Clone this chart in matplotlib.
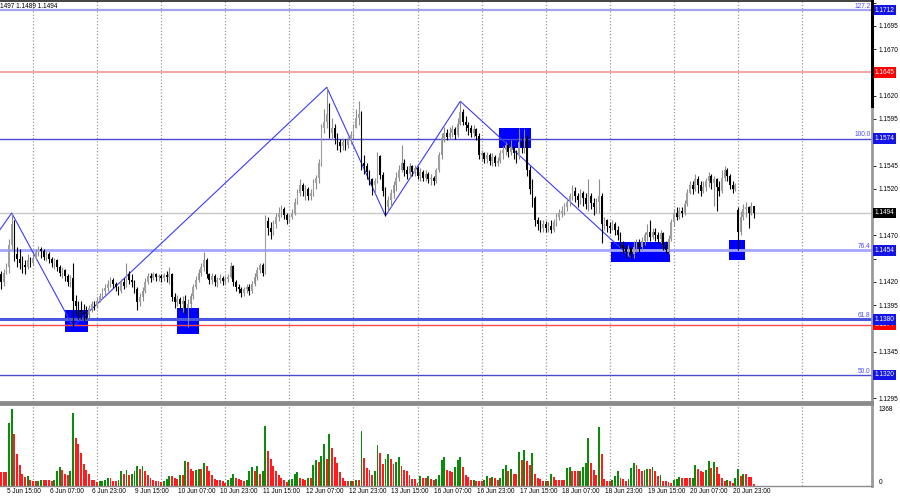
import numpy as np
import matplotlib
matplotlib.use("Agg")
import matplotlib.pyplot as plt
from matplotlib import font_manager
from matplotlib.patches import Rectangle
from matplotlib.lines import Line2D
from matplotlib.transforms import blended_transform_factory

# EURUSD H1, 5 Jun 12:00 .. 23 Jun 06:00, prices in units of 0.0001
first_open = 11428
gap_opens = {276: 11497}  # Monday 23 Jun opens with a gap

close = [
    11420, 11430, 11436, 11460, 11482, 11450, 11445, 11440, 11438, 11436, 11444, 11440,  # 5 Jun
    11446, 11452, 11455, 11453, 11447, 11450, 11445, 11440, 11443, 11436, 11430, 11433,
    11426, 11420, 11424, 11400, 11394, 11390, 11388, 11386, 11384, 11392, 11396, 11394,  # 6 Jun
    11400, 11405, 11410, 11413, 11418, 11422, 11418, 11414, 11410, 11420, 11416, 11428,
    11422, 11420, 11412, 11398, 11404, 11410, 11420, 11426, 11424, 11428, 11425, 11426,  # 9 Jun
    11424, 11427, 11425, 11428, 11404, 11398, 11402, 11396, 11400, 11392, 11396, 11405,
    11414, 11422, 11430, 11436, 11444, 11428, 11422, 11426, 11420, 11422, 11424, 11421,  # 10 Jun
    11423, 11425, 11437, 11420, 11415, 11412, 11408, 11412, 11415, 11410, 11418, 11425,
    11433, 11438, 11430, 11485, 11478, 11474, 11482, 11490, 11494, 11498, 11492, 11486,  # 11 Jun
    11490, 11494, 11506, 11516, 11524, 11518, 11520, 11512, 11516, 11526, 11532, 11548,
    11585, 11592, 11600, 11580, 11585, 11575, 11570, 11566, 11570, 11567, 11572, 11578,  # 12 Jun
    11585, 11596, 11600, 11548, 11545, 11538, 11530, 11524, 11528, 11555, 11535, 11518,
    11500, 11508, 11515, 11524, 11532, 11540, 11548, 11540, 11536, 11544, 11538, 11542,  # 13 Jun
    11534, 11538, 11532, 11536, 11530, 11532, 11528, 11540, 11556, 11575, 11580, 11576,
    11580, 11584, 11578, 11590, 11602, 11592, 11588, 11585, 11580, 11584, 11577, 11556,  # 16 Jun
    11558, 11552, 11556, 11550, 11554, 11548, 11550, 11558, 11562, 11567, 11560, 11565,
    11558, 11555, 11570, 11566, 11574, 11540, 11520, 11510, 11486, 11482, 11478, 11482,  # 17 Jun
    11478, 11480, 11476, 11484, 11490, 11494, 11496, 11500, 11506, 11512, 11518, 11512,
    11508, 11515, 11510, 11504, 11512, 11505, 11500, 11506, 11512, 11482, 11486, 11480,  # 18 Jun
    11478, 11482, 11476, 11470, 11460, 11456, 11452, 11456, 11450, 11458, 11462, 11458,
    11464, 11470, 11474, 11468, 11474, 11470, 11466, 11472, 11460, 11454, 11466, 11484,  # 19 Jun
    11494, 11490, 11496, 11494, 11504, 11516, 11524, 11520, 11530, 11524, 11518, 11522,
    11528, 11534, 11526, 11530, 11522, 11518, 11532, 11540, 11534, 11524, 11520, 11524,  # 20 Jun
    11474, 11490, 11498, 11500, 11494, 11502, 11494,  # 23 Jun
]
high = [
    11432, 11434, 11440, 11466, 11494, 11486, 11458, 11455, 11448, 11444, 11450, 11447,
    11450, 11455, 11459, 11458, 11455, 11453, 11452, 11447, 11446, 11445, 11438, 11436,
    11434, 11428, 11427, 11440, 11406, 11400, 11400, 11396, 11394, 11395, 11400, 11400,
    11404, 11408, 11413, 11418, 11422, 11425, 11424, 11420, 11416, 11423, 11424, 11440,
    11432, 11428, 11422, 11414, 11408, 11414, 11424, 11430, 11430, 11431, 11430, 11429,
    11428, 11430, 11432, 11436, 11430, 11408, 11406, 11404, 11405, 11406, 11402, 11408,
    11418, 11426, 11434, 11440, 11452, 11446, 11430, 11430, 11428, 11425, 11428, 11426,
    11426, 11428, 11441, 11438, 11422, 11418, 11414, 11415, 11418, 11418, 11421, 11430,
    11436, 11440, 11440, 11492, 11490, 11484, 11486, 11494, 11500, 11503, 11500, 11494,
    11493, 11498, 11510, 11520, 11530, 11526, 11524, 11522, 11520, 11530, 11535, 11552,
    11590, 11606, 11629, 11612, 11596, 11590, 11580, 11574, 11574, 11573, 11576, 11582,
    11590, 11606, 11614, 11604, 11556, 11548, 11540, 11532, 11532, 11560, 11556, 11538,
    11522, 11512, 11520, 11528, 11538, 11546, 11567, 11552, 11544, 11548, 11546, 11546,
    11544, 11542, 11540, 11540, 11538, 11536, 11534, 11542, 11560, 11580, 11586, 11584,
    11586, 11588, 11586, 11596, 11614, 11606, 11598, 11592, 11588, 11588, 11585, 11580,
    11562, 11560, 11560, 11558, 11558, 11556, 11554, 11562, 11566, 11570, 11568, 11572,
    11566, 11562, 11585, 11576, 11584, 11578, 11544, 11530, 11512, 11490, 11486, 11486,
    11485, 11484, 11486, 11488, 11494, 11498, 11502, 11505, 11510, 11516, 11524, 11522,
    11516, 11520, 11518, 11516, 11530, 11516, 11510, 11510, 11530, 11516, 11490, 11488,
    11484, 11486, 11484, 11480, 11474, 11464, 11460, 11460, 11458, 11464, 11466, 11466,
    11468, 11474, 11482, 11486, 11478, 11478, 11474, 11476, 11474, 11464, 11470, 11488,
    11498, 11500, 11500, 11500, 11508, 11520, 11528, 11528, 11536, 11534, 11528, 11528,
    11532, 11538, 11536, 11534, 11532, 11528, 11540, 11544, 11542, 11536, 11528, 11526,
    11500, 11496, 11504, 11506, 11502, 11506, 11497,
]
low = [
    11412, 11416, 11428, 11430, 11455, 11442, 11436, 11434, 11430, 11428, 11434, 11436,
    11438, 11443, 11448, 11446, 11444, 11442, 11440, 11436, 11434, 11432, 11426, 11424,
    11421, 11416, 11414, 11372, 11384, 11380, 11380, 11378, 11380, 11381, 11388, 11390,
    11392, 11398, 11402, 11406, 11410, 11414, 11413, 11410, 11406, 11408, 11412, 11414,
    11418, 11415, 11408, 11390, 11394, 11400, 11408, 11418, 11420, 11422, 11421, 11421,
    11420, 11421, 11420, 11418, 11400, 11392, 11394, 11390, 11388, 11385, 11372, 11392,
    11402, 11412, 11420, 11426, 11432, 11424, 11418, 11418, 11416, 11415, 11419, 11417,
    11418, 11420, 11424, 11416, 11410, 11408, 11404, 11405, 11408, 11406, 11408, 11416,
    11422, 11430, 11426, 11428, 11470, 11466, 11470, 11478, 11485, 11490, 11488, 11482,
    11484, 11488, 11492, 11504, 11512, 11512, 11508, 11508, 11508, 11512, 11520, 11526,
    11545, 11580, 11585, 11575, 11574, 11568, 11562, 11560, 11562, 11562, 11564, 11568,
    11575, 11585, 11588, 11540, 11536, 11530, 11524, 11513, 11516, 11526, 11530, 11512,
    11491, 11496, 11500, 11510, 11518, 11528, 11538, 11534, 11530, 11532, 11534, 11534,
    11530, 11528, 11528, 11528, 11526, 11524, 11524, 11526, 11538, 11552, 11570, 11572,
    11574, 11576, 11574, 11576, 11588, 11588, 11582, 11578, 11576, 11576, 11572, 11552,
    11550, 11548, 11548, 11546, 11544, 11545, 11544, 11548, 11552, 11556, 11554, 11556,
    11552, 11548, 11552, 11558, 11558, 11534, 11514, 11500, 11480, 11476, 11474, 11474,
    11474, 11474, 11472, 11474, 11480, 11486, 11490, 11492, 11496, 11502, 11508, 11506,
    11500, 11504, 11502, 11498, 11496, 11498, 11492, 11494, 11494, 11462, 11476, 11474,
    11472, 11476, 11470, 11465, 11456, 11450, 11446, 11448, 11446, 11446, 11452, 11452,
    11454, 11460, 11464, 11464, 11466, 11464, 11462, 11462, 11454, 11450, 11450, 11464,
    11480, 11486, 11488, 11490, 11492, 11502, 11514, 11514, 11518, 11516, 11512, 11516,
    11518, 11522, 11520, 11502, 11496, 11512, 11516, 11528, 11528, 11520, 11516, 11518,
    11454, 11470, 11486, 11490, 11478, 11492, 11489,
]
volume = [
    255, 255, 255, 1120, 1360, 920, 570, 370, 210, 160, 175, 110,
    80, 80, 90, 115, 100, 100, 100, 80, 100, 270, 330, 280,
    220, 200, 270, 1300, 860, 750, 580, 390, 280, 220, 115, 100,
    70, 80, 90, 115, 140, 140, 90, 90, 100, 260, 220, 280,
    200, 210, 270, 360, 300, 350, 270, 200, 150, 100, 90, 80,
    66, 80, 120, 180, 180, 140, 120, 200, 200, 440, 425, 300,
    270, 280, 300, 295, 400, 350, 270, 200, 120, 100, 100, 90,
    60, 110, 150, 210, 140, 120, 100, 90, 115, 260, 330, 260,
    360, 220, 270, 1060, 630, 480, 360, 260, 200, 150, 100, 70,
    100, 130, 220, 240, 150, 120, 115, 150, 150, 380, 460, 420,
    540, 740, 480, 930, 680, 520, 400, 240, 140, 90, 80, 90,
    90, 100, 100, 970, 500, 320, 280, 200, 260, 720, 590, 390,
    480, 570, 480, 390, 420, 520, 360, 280, 260, 200, 130, 130,
    60, 180, 140, 140, 180, 120, 100, 120, 200, 460, 510, 280,
    270, 240, 330, 470, 520, 330, 200, 160, 100, 115, 90, 80,
    80, 115, 185, 150, 160, 140, 115, 140, 300, 370, 260, 310,
    210, 210, 610, 460, 640, 440, 380, 580, 220, 140, 125, 80,
    90, 90, 220, 160, 115, 115, 115, 115, 320, 340, 270, 270,
    260, 270, 340, 410, 860, 400, 280, 200, 1050, 560, 120, 90,
    90, 115, 185, 270, 150, 120, 90, 125, 320, 400, 380, 310,
    260, 280, 300, 300, 340, 270, 175, 200, 90, 80, 66, 60,
    100, 120, 160, 150, 140, 140, 140, 150, 380, 310, 260, 250,
    280, 450, 320, 430, 330, 210, 150, 80, 100, 80, 60, 140,
    295, 180, 220, 220, 160, 160, 40,
]

# day separators (bar index of 00:00) and time axis labels
day_start_bars = [12, 36, 60, 84, 108, 132, 156, 180, 204, 228, 252, 276, 300]
label_bars = [3, 19, 35, 51, 67, 83, 99, 115, 131, 147, 163, 179, 195, 211, 227, 243, 259, 275]
label_text = ["5 Jun 15:00", "6 Jun 07:00", "6 Jun 23:00", "9 Jun 15:00", "10 Jun 07:00",
              "10 Jun 23:00", "11 Jun 15:00", "12 Jun 07:00", "12 Jun 23:00", "13 Jun 15:00",
              "16 Jun 07:00", "16 Jun 23:00", "17 Jun 15:00", "18 Jun 07:00", "18 Jun 23:00",
              "19 Jun 15:00", "20 Jun 07:00", "20 Jun 23:00"]

# horizontal levels
level_price = [1.1712, 1.1645, 1.1574, 1.1494, 1.1454, 1.1374, 1.1380, 1.1320]
level_line = ["#a3a3f0", "#f5a3a3", "#4b4bd6", "#c8c8c8", "#a6a6ff", "#ff4a4a", "#4a58e0", "#4b4bd6"]
level_width = [1.6, 1.4, 1.0, 1.0, 2.0, 1.0, 2.2, 1.0]
level_tag = ["#1414e6", "#ff0000", "#1414e6", "#000000", "#1414e6", "#ff0000", "#1414e6", "#1414e6"]
fibo_price = [1.1712, 1.1574, 1.1454, 1.1380, 1.1320]
fibo_text = ["127.2", "100.0", "76.4", "61.8", "50.0"]

# zigzag swing points (bar index, price)
zig_bar = [-0.4, 4, 27, 122, 144, 172, 236]
zig_price = [11476, 11494, 11372, 11629, 11491, 11614, 11446]

# blue zones: (first bar, last bar), (bottom, top)
zone_bars = [(24, 32.6), (66, 74), (186.5, 198.5), (228.5, 250.6), (272.7, 278.7)]
zone_prices = [(11366, 11390), (11364, 11392), (11564, 11585), (11441, 11463), (11443, 11465)]

n = min(len(close), len(high), len(low), len(volume))
c = np.array(close[:n]) / 10000
h = np.array(high[:n]) / 10000
l = np.array(low[:n]) / 10000
o = np.concatenate([[first_open], close[:n - 1]]).astype(float)
for k, v in gap_opens.items():
    if k < n:
        o[k] = v
o = o / 10000
h = np.maximum(h, np.maximum(o, c))
l = np.minimum(l, np.minimum(o, c))
vol = np.array(volume[:n], dtype=float)
x = np.arange(n)

# narrow font for the small MT4-like captions if it exists
names = {f.name for f in font_manager.fontManager.ttflist}
if "Liberation Sans Narrow" in names:
    small_family, fs = ["Liberation Sans Narrow", "DejaVu Sans"], 5.6
else:
    small_family, fs = ["Liberation Sans", "DejaVu Sans"], 4.7
plt.rcParams['font.family'] = small_family

fig = plt.figure(figsize=(9, 5), dpi=100)
fig.patch.set_facecolor("white")

W, H = 900, 500
ax = fig.add_axes([0, 98 / H, 872 / W, 401 / H])
axv = fig.add_axes([0, 14 / H, 872 / W, 82 / H])

xmin, xmax = -0.37, 326.2
ax.set_xlim(xmin, xmax)
ax.set_ylim(1.12910, 1.17217)
axv.set_xlim(xmin, xmax)
axv.set_ylim(0, 1457)

# grid
for a in (ax, axv):
    for d in day_start_bars:
        a.axvline(d, color="#9a9a9a", lw=0.9, ls=(0, (1, 1.6)), zorder=0)

# zones
for (b0, b1), (p0, p1) in zip(zone_bars, zone_prices):
    ax.add_patch(Rectangle((b0, p0 / 10000), b1 - b0, (p1 - p0) / 10000,
                           facecolor="#0000ff", edgecolor="none", zorder=1))

# levels
for p, col, lw in zip(level_price, level_line, level_width):
    ax.axhline(p, color=col, lw=lw, zorder=2)

# zigzag
ax.plot(zig_bar, np.array(zig_price) / 10000, color="#3a3aff", lw=0.8, zorder=3)

# candles
up = c >= o
wick_col = np.where(up, "#8c8c8c", "#000000")
ax.vlines(x, l, h, colors=wick_col, lw=0.8, zorder=4)
body = np.maximum(np.abs(c - o), 0.00004)
ax.bar(x, body, bottom=np.minimum(o, c), width=0.62,
       color=np.where(up, "#a0a0a0", "#000000"), edgecolor="none", zorder=5)

# volumes (green when volume rises vs previous bar)
vcol = ["#0a8c0a" if i > 0 and vol[i] > vol[i - 1] else "#ff1c1c" for i in range(n)]
axv.bar(x, vol, width=0.72, color=vcol, edgecolor="none", zorder=2)

# axes styling
for a in (ax, axv):
    a.set_facecolor("white")
    a.set_xticks([])
    a.spines["left"].set_visible(False)
    a.spines["right"].set_color("#9a9a9a")
    a.spines["right"].set_linewidth(2)
ax.spines["top"].set_color("#222222")
ax.spines["top"].set_linewidth(1.2)
ax.spines["bottom"].set_color("#8a8a8a")
ax.spines["bottom"].set_linewidth(2)
axv.spines["top"].set_color("#8a8a8a")
axv.spines["top"].set_linewidth(2)
axv.spines["bottom"].set_color("#8a8a8a")
axv.spines["bottom"].set_linewidth(1)

# right price scale; labels under a price tag are left out
ax.yaxis.tick_right()
ticks = np.round(np.arange(1.1295, 1.17201, 0.0025), 4)
ax.set_yticks(ticks)
ax.set_yticklabels(["" if min(abs(t - p) for p in level_price) < 0.0009 else f"{t:.4f}"
                    for t in ticks])
ax.tick_params(axis="y", labelsize=fs, length=3, width=0.6, pad=2, colors="black")
axv.set_yticks([])

# price tags on the right scale (later ones drawn on top)
tr = blended_transform_factory(ax.transAxes, ax.transData)
for k, (p, col) in enumerate(zip(level_price, level_tag)):
    ax.text(1.003, p, f"{p:.4f}", transform=tr, ha="left", va="center", fontsize=fs,
            color="white", zorder=10 + k, clip_on=False,
            bbox=dict(boxstyle="square,pad=0.3", facecolor=col, edgecolor="none"))

# fibo level captions
for p, t in zip(fibo_price, fibo_text):
    ax.text(0.9985, p + 0.00004, t, transform=tr, ha="right", va="bottom",
            fontsize=fs, color="#4a4aff", zorder=6)

# volume scale
trv = blended_transform_factory(axv.transAxes, axv.transData)
axv.text(1.008, 1368, "1368", transform=trv, ha="left", va="center", fontsize=fs)
axv.text(1.008, 60, "0", transform=trv, ha="left", va="center", fontsize=fs)

# time labels
trx = blended_transform_factory(axv.transData, axv.transAxes)
for b, t in zip(label_bars, label_text):
    axv.text(b - 0.8, -0.03, t, transform=trx, ha="left", va="top", fontsize=fs, clip_on=False)

# black marker on top part of the price scale
fig.add_artist(Line2D([872 / W, 872 / W], [1 - 1 / H, 1 - 106 / H], color="black", lw=2.2))

fig.text(0.0, 1 - 7 / H, "1497 1.1489 1.1494", fontsize=fs, ha="left", va="center")

fig.savefig("out.png", dpi=100, facecolor="white")
